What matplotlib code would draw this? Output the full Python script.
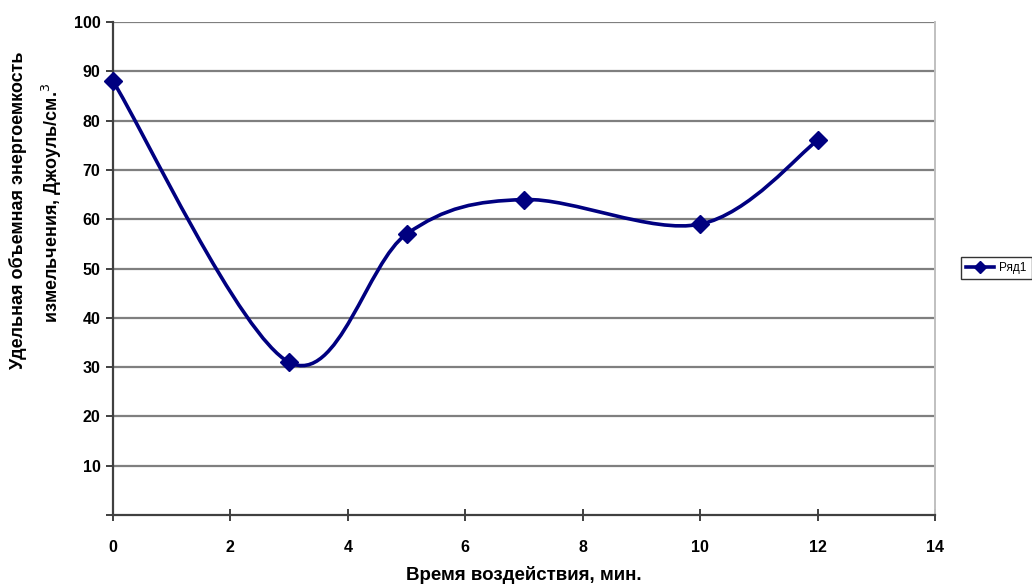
import numpy as np
import matplotlib.pyplot as plt
from matplotlib.path import Path
from matplotlib.patches import PathPatch
from matplotlib.lines import Line2D

plt.rcParams['font.family'] = ['Liberation Sans', 'DejaVu Sans']

# exposure time, min
time_min = [0, 3, 5, 7, 10, 12]
# specific volumetric energy of grinding, J/cm^3
energy = [88, 31, 57, 64, 59, 76]

x_ticks = [0, 2, 4, 6, 8, 10, 12, 14]
y_ticks = [10, 20, 30, 40, 50, 60, 70, 80, 90, 100]

NAVY = "#000080"
GRID = "#7f7f7f"


def smooth_path(xs, ys):
    """Bezier path through the points, spreadsheet-style smoothing."""
    pts = np.column_stack([xs, ys]).astype(float)
    n = len(pts)
    verts = [pts[0]]
    codes = [Path.MOVETO]
    for i in range(n - 1):
        p0 = pts[i - 1] if i > 0 else pts[i]
        p1 = pts[i]
        p2 = pts[i + 1]
        p3 = pts[i + 2] if i + 2 < n else pts[i + 1]
        c1 = p1 + (p2 - p0) / 6.0
        c2 = p2 - (p3 - p1) / 6.0
        verts += [c1, c2, p2]
        codes += [Path.CURVE4] * 3
    return Path(verts, codes)


fig = plt.figure(figsize=(10.32, 5.88), dpi=100)
ax = fig.add_axes([0.1095, 0.124, 0.7965, 0.8385])

ax.add_patch(PathPatch(smooth_path(time_min, energy), facecolor="none",
                       edgecolor=NAVY, linewidth=2.6, zorder=3, clip_on=False))
ax.plot(time_min, energy, linestyle="none", marker="D", markersize=9,
        color=NAVY, zorder=4, clip_on=False)

ax.set_xlim(0, 14)
ax.set_ylim(0, 100)
ax.set_xticks(x_ticks)
ax.set_yticks([0] + y_ticks)
ax.set_yticklabels([""] + [str(v) for v in y_ticks])

for v in y_ticks:
    ax.axhline(v, color=GRID, linewidth=1.6, zorder=1)

ax.spines["top"].set_visible(False)
ax.spines["right"].set_color("#c0c0c0")
ax.spines["right"].set_linewidth(1.4)
ax.spines["left"].set_color("#404040")
ax.spines["left"].set_linewidth(1.6)
ax.spines["bottom"].set_color("#404040")
ax.spines["bottom"].set_linewidth(1.6)

ax.tick_params(axis="x", direction="inout", length=8, width=1.4, color="#404040",
               pad=14, labelsize=11.5)
ax.tick_params(axis="y", direction="out", length=5, width=1.4, color="#404040",
               pad=4, labelsize=11.5)
for lab in ax.get_xticklabels() + ax.get_yticklabels():
    lab.set_fontweight("bold")

fig.text(0.5 * (0.1095 + 0.906), 0.022, "Время воздействия, мин.",
         ha="center", va="center", fontsize=13.5, fontweight="bold")

fig.text(0.017, 0.643, "Удельная объемная энергоемкость", rotation=90,
         ha="center", va="center", fontsize=13, fontweight="bold")
fig.text(0.05, 0.655, "измельчения, Джоуль/см.$^3$", rotation=90,
         ha="center", va="center", fontsize=13, fontweight="bold")

handle = Line2D([], [], color=NAVY, linewidth=2.6, marker="D", markersize=6)
leg = fig.legend([handle], ["Ряд1"], loc="center left", bbox_to_anchor=(0.925, 0.544),
                 fontsize=8.5, frameon=True, fancybox=False, handlelength=2.4,
                 borderpad=0.45, handletextpad=0.4)
leg.get_frame().set_edgecolor("black")
leg.get_frame().set_linewidth(1.0)

fig.savefig("out.png", dpi=100)
